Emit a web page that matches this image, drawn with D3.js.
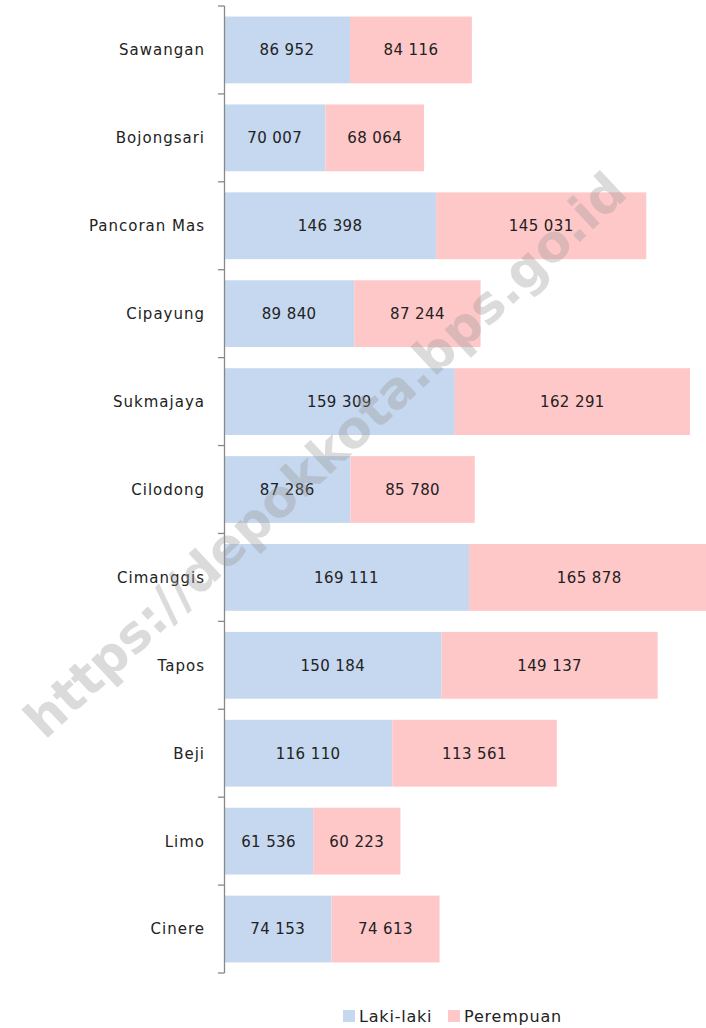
<!DOCTYPE html>
<html><head><meta charset="utf-8">
<script src="https://cdn.jsdelivr.net/npm/d3@7"></script>
<style>body{margin:0;background:#fff}svg{display:block}</style>
</head><body>
<script>
const categories = ["Sawangan","Bojongsari","Pancoran Mas","Cipayung","Sukmajaya","Cilodong","Cimanggis","Tapos","Beji","Limo","Cinere"];
const lakiLaki = [86952,70007,146398,89840,159309,87286,169111,150184,116110,61536,74153];
const perempuan = [84116,68064,145031,87244,162291,85780,165878,149137,113561,60223,74613];
const seriesNames = ["Laki-laki","Perempuan"];
const colors = ["#c6d8ef","#ffc8c8"];

const W=706,H=1028;
const svg=d3.select("body").append("svg").attr("width",W).attr("height",H);
const font="'DejaVu Sans', Verdana, sans-serif";
const x=d3.scaleLinear().domain([0,350000]).range([224,224+0.001449*350000]);
const y=d3.scaleBand().domain(categories).range([6,973]).paddingInner(0.24).paddingOuter(0.12);
const fmt=v=>d3.format(",")(v).replace(/,/g," ");

const rows=categories.map((c,i)=>({c,vals:[lakiLaki[i],perempuan[i]]}));
const g=svg.append("g");
rows.forEach(r=>{
  let acc=0;
  r.vals.forEach((v,j)=>{
    const x0=x(acc),x1=x(acc+v);
    g.append("rect").attr("x",x0).attr("y",y(r.c)).attr("width",x1-x0).attr("height",y.bandwidth()).attr("fill",colors[j]);
    g.append("text").attr("x",(x0+x1)/2).attr("y",y(r.c)+y.bandwidth()/2).attr("dy","0.36em")
      .attr("text-anchor","middle").attr("font-family",font).attr("font-size",15).attr("letter-spacing",0.4).attr("fill","#222").text(fmt(v));
    acc+=v;
  });
});

// axis
const ax=svg.append("g");
ax.append("line").attr("x1",224.5).attr("x2",224.5).attr("y1",6).attr("y2",973).attr("stroke","#888").attr("stroke-width",1.3);
d3.range(categories.length+1).forEach(i=>{
  const yy=6+i*(967/categories.length);
  ax.append("line").attr("x1",218).attr("x2",224.5).attr("y1",yy).attr("y2",yy).attr("stroke","#888").attr("stroke-width",1.3);
});
categories.forEach(c=>{
  ax.append("text").attr("x",205).attr("y",y(c)+y.bandwidth()/2).attr("dy","0.36em").attr("text-anchor","end")
    .attr("font-family",font).attr("font-size",15).attr("letter-spacing",1).attr("fill","#222").text(c);
});

// watermark
svg.append("text").attr("transform","translate(325,455) rotate(-43)").attr("text-anchor","middle").attr("dy","0.35em")
  .attr("font-family","'DejaVu Sans', Arial, sans-serif").attr("font-weight","bold").attr("font-size",51)
  .attr("fill","#999").attr("fill-opacity",0.35).text("https://depokkota.bps.go.id");

// legend
const lg=svg.append("g").attr("font-family",font).attr("font-size",16).attr("letter-spacing",0.8).attr("fill","#222");
const lx=[343,448];
seriesNames.forEach((n,i)=>{
  lg.append("rect").attr("x",lx[i]).attr("y",1010).attr("width",12).attr("height",12).attr("fill",colors[i]);
  lg.append("text").attr("x",lx[i]+16).attr("y",1016).attr("dy","0.36em").text(n);
});
</script>
</body></html>
